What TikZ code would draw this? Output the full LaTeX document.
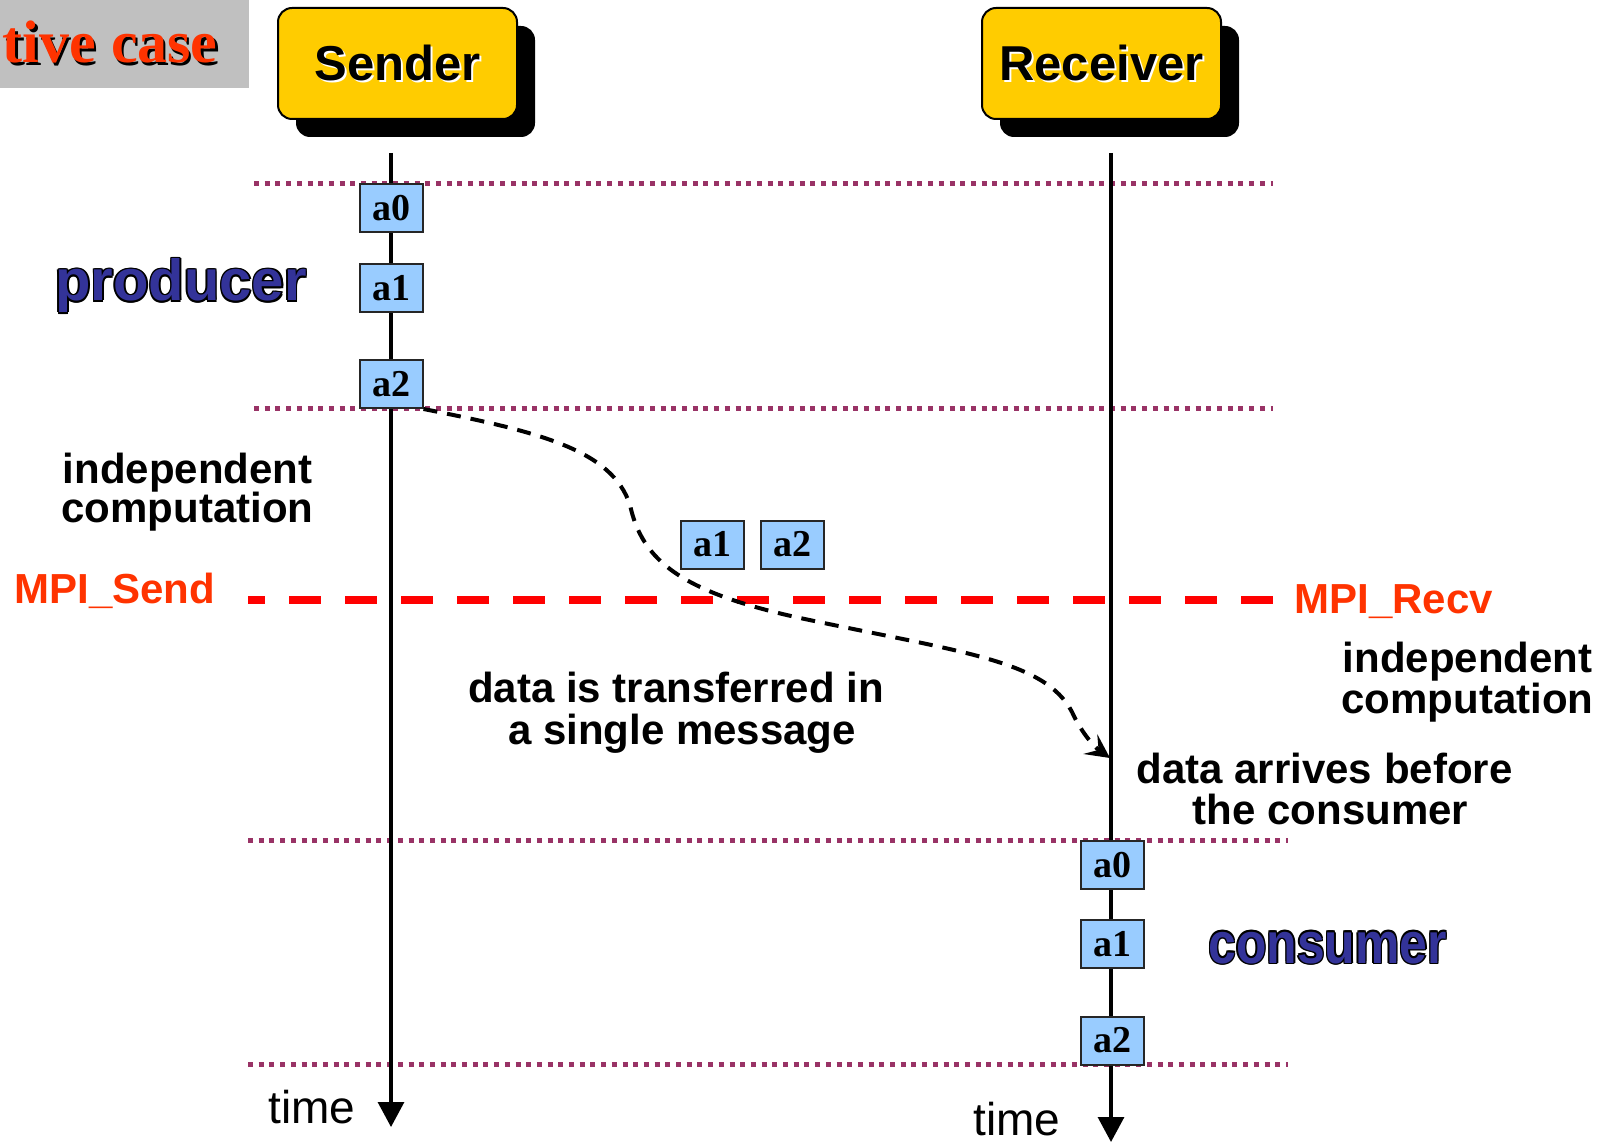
\documentclass[tikz,border=0pt]{standalone}
\usepackage{fontspec}
\usepackage{graphicx}
\setmainfont{Liberation Sans}
\newfontfamily\serifx{Liberation Serif}
\usetikzlibrary{arrows.meta,shadows}
\definecolor{gold}{HTML}{FFCC00}
\definecolor{boxblue}{HTML}{99CCFF}
\definecolor{dotc}{HTML}{993366}
\definecolor{navyb}{HTML}{333399}
\definecolor{orred}{HTML}{FF3300}
\definecolor{titlegray}{HTML}{C0C0C0}
\newcommand\myoutl[2]{\leavevmode\rlap{\color{black}\kern-0.8pt#2}\rlap{\color{black}\kern0.8pt#2}\rlap{\color{black}\raisebox{0.8pt}{#2}}\rlap{\color{black}\raisebox{-0.8pt}{#2}}\rlap{\color{black}\kern0.56pt\raisebox{0.56pt}{#2}}\rlap{\color{black}\kern-0.56pt\raisebox{0.56pt}{#2}}\rlap{\color{black}\kern0.56pt\raisebox{-0.56pt}{#2}}\rlap{\color{black}\kern-0.56pt\raisebox{-0.56pt}{#2}}{\color{#1}#2}}
\newcommand\myshad[4]{\leavevmode\rlap{\color{#2}\kern#3\raisebox{-#3}{#4}}{\color{#1}#4}}
\begin{document}
\begin{tikzpicture}[x=0.5pt,y=-0.5pt,
  lifebox/.style={draw=black,line width=1pt,fill=gold,rounded corners=7pt,
    minimum width=119.5pt,minimum height=55.5pt,inner sep=0pt,
    drop shadow={shadow xshift=9pt,shadow yshift=-9pt,fill=black,opacity=1},
    font=\bfseries\fontsize{24.5}{28}\selectfont},
  blk/.style={draw=black!85,line width=1pt,fill=boxblue,minimum width=31.5pt,
    minimum height=24pt,inner sep=0pt,font=\serifx\bfseries\fontsize{19}{20}\selectfont},
  dotline/.style={draw=dotc,line width=2.5pt,dash pattern=on 2.5pt off 2.85pt},
  redline/.style={draw=red,line width=4pt,dash pattern=on 16pt off 12pt,dash phase=7.5pt},
  lifeline/.style={draw=black,line width=1.6pt,-{Triangle[width=13pt,length=12.5pt]}},
  msg/.style={draw=black,line width=2pt,dash pattern=on 7pt off 5pt,
    -{Stealth[length=12pt,width=12pt,inset=5pt]}},
  body/.style={font=\bfseries\fontsize{21}{24}\selectfont,inner sep=0pt},
  mpi/.style={font=\bfseries\fontsize{21}{24}\selectfont,text=orred,inner sep=0pt},
  timel/.style={font=\fontsize{23}{26}\selectfont,inner sep=0pt},
  role/.style={font=\bfseries\fontsize{29}{32}\selectfont,inner sep=0pt}]
\useasboundingbox (0,0) rectangle (1615,1144);
\fill[white] (0,0) rectangle (1615,1144);
% title box
\fill[titlegray] (0,0) rectangle (249,88);
\node[anchor=base east,inner sep=0pt,font=\serifx\bfseries\fontsize{30}{34}\selectfont] (title) at (218,63) {\myshad{orred}{black}{1.2pt}{tive case}};
% dotted phase lines
\coordinate (d1a) at (254,184);  \coordinate (d1b) at (1273,184);
\coordinate (d2a) at (254,408);  \coordinate (d2b) at (1273,408);
\coordinate (d3a) at (248,840);  \coordinate (d3b) at (1288,840);
\coordinate (d4a) at (248,1064); \coordinate (d4b) at (1288,1064);
\draw[dotline] (d1a) -- (d1b);
\draw[dotline] (d2a) -- (d2b);
\draw[dotline] (d3a) -- (d3b);
\draw[dotline] (d4a) -- (d4b);
% red MPI line
\coordinate (ra) at (248,600); \coordinate (rb) at (1273,600);
\draw[redline] (ra) -- (rb);
% actors
\node[lifebox] (snd) at (397.5,63.5) {\myshad{black}{white}{1pt}{Sender}};
\node[lifebox] (rcv) at (1101.5,63.5) {\myshad{black}{white}{1pt}{Receiver}};
% lifelines
\coordinate (stop) at (391,153); \coordinate (sbot) at (391,1127);
\coordinate (rtop) at (1111,153); \coordinate (rbot) at (1111,1142);
\draw[lifeline] (stop) -- (sbot);
\draw[lifeline] (rtop) -- (rbot);
% message curve
\node[blk] (sa0) at (391,208) {a0};
\node[blk] (sa1) at (391,288) {a1};
\node[blk] (sa2) at (391,384) {a2};
\coordinate (arr) at (1110,758);
\draw[msg] (sa2.south east) .. controls (540,432) and (612,450) .. (630,505)
  .. controls (642,560) and (680,592) .. (800,618)
  .. controls (960,652) and (1045,660) .. (1072,712)
  .. controls (1080,730) and (1093,746) .. (arr);
\node[blk] (ma1) at (712,544.5) {a1};
\node[blk] (ma2) at (792.5,544.5) {a2};
\node[blk] (ra0) at (1112,865) {a0};
\node[blk] (ra1) at (1112,944) {a1};
\node[blk] (ra2) at (1112,1040.5) {a2};
% labels
\node[role,anchor=base west] (prod) at (55,301) {\myoutl{navyb}{producer}};
\node[role,anchor=base west] (cons) at (1208,963) {\scalebox{0.86}[1]{\myoutl{navyb}{consumer}}};
\node[body,anchor=base] (ic1) at (187.5,483) {independent};
\node[body,anchor=base] (ic2) at (187.5,522) {computation};
\node[body,anchor=base] (ic3) at (1467.5,672) {independent};
\node[body,anchor=base] (ic4) at (1467.5,713) {computation};
\node[mpi,anchor=base west] (msend) at (14,603) {MPI\_Send};
\node[mpi,anchor=base west] (mrecv) at (1294,613) {MPI\_Recv};
\node[body,anchor=base] (dt1) at (676,702) {data is transferred in};
\node[body,anchor=base] (dt2) at (682,744) {a single message};
\node[body,anchor=base] (da1) at (1324.5,783) {data arrives before};
\node[body,anchor=base] (da2) at (1330.5,824) {the consumer};
\node[timel,anchor=base west] (t1) at (268,1123) {time};
\node[timel,anchor=base west] (t2) at (973,1135) {time};
\end{tikzpicture}
\end{document}
